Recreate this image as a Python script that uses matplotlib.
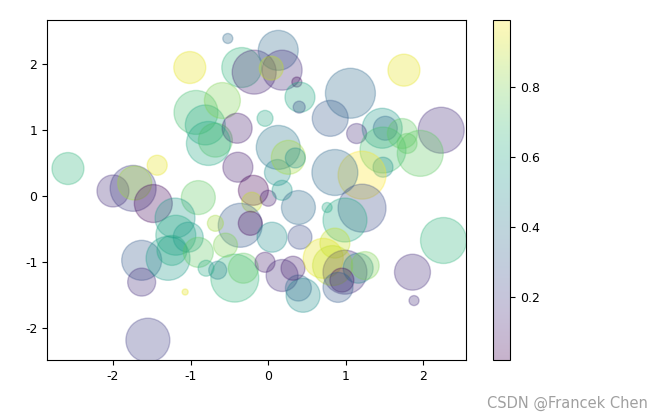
import numpy as np
import matplotlib.pyplot as plt

plt.rcParams['axes.unicode_minus'] = False

# bubble centres, sizes (pt^2) and colour values
x = [-0.52, -1.01, -0.34, -0.18, 0.13, 0.18, 0.04, 0.37, 0.41, 0.40,
     1.75, 1.06, 0.80, 1.47, 1.51, 2.23, 1.14, -2.58, -1.43, -2.00,
     -1.74, -1.72, -1.48, -0.90, -1.20, -1.19, -0.93, -0.81, -0.68, -0.59,
     -0.40, -0.77, -0.39, -0.19, -0.21, 0.00, 0.12, 0.13, 0.26, -0.36,
     -0.23, 0.18, 0.39, 0.41, 0.05, -0.68, -1.03, 1.96, 1.48, 1.48,
     1.21, 0.86, 1.21, 0.99, 0.76, 2.26, 0.86, 1.73, 1.79, -1.63,
     -1.63, -1.29, -1.07, -1.55, -1.24, -0.43, -0.65, -0.32, 0.18, 0.45,
     0.39, 0.32, 0.71, 0.99, 0.83, 1.16, 1.25, 0.95, 0.90, 1.86,
     1.88, -0.90, -0.55, -0.80, -0.04, -0.04, 0.35]
y = [2.39, 1.95, 1.95, 1.88, 2.21, 1.91, 1.94, 1.73, 1.50, 1.35,
     1.91, 1.56, 1.18, 1.03, 1.03, 1.00, 0.95, 0.42, 0.47, 0.08,
     0.12, 0.20, -0.11, -0.02, -0.33, -0.59, 1.27, 1.08, 0.85, 1.45,
     1.03, 0.80, 0.44, 0.09, -0.09, -0.03, 0.36, 0.74, 0.59, -0.44,
     -0.41, 0.09, -0.17, -0.62, -0.62, -0.41, -0.62, 0.65, 0.70, 0.44,
     0.32, 0.36, -0.18, -0.36, -0.17, -0.67, -0.71, 0.95, 0.80, -0.97,
     -1.30, -0.94, -1.45, -2.18, -0.82, -1.24, -1.12, -1.09, -1.20, -1.50,
     -1.39, -1.09, -0.94, -1.15, -1.05, -1.09, -1.05, -1.27, -1.38, -1.15,
     -1.58, -0.85, -0.74, -1.09, -1.00, 1.18, 0.58]
sizes = [52, 530, 828, 1002, 828, 828, 298, 52, 466, 75,
         530, 1294, 670, 828, 298, 1095, 207, 530, 207, 530,
         1095, 598, 747, 598, 828, 828, 1002, 828, 598, 670,
         466, 1002, 466, 466, 207, 132, 350, 1002, 598, 1002,
         298, 207, 598, 298, 466, 132, 466, 1095, 1095, 207,
         1192, 1095, 1192, 1002, 52, 1095, 466, 466, 207, 828,
         406, 1002, 19, 1002, 466, 1192, 168, 466, 530, 598,
         350, 298, 828, 1002, 828, 466, 406, 298, 466, 670,
         52, 466, 298, 132, 207, 132, 207]
colors = [0.35, 0.95, 0.65, 0.12, 0.35, 0.15, 0.90, 0.05, 0.60, 0.25,
          0.95, 0.35, 0.30, 0.55, 0.35, 0.15, 0.15, 0.65, 0.95, 0.15,
          0.20, 0.85, 0.05, 0.75, 0.55, 0.60, 0.70, 0.60, 0.75, 0.80,
          0.10, 0.60, 0.10, 0.02, 0.90, 0.10, 0.50, 0.40, 0.85, 0.30,
          0.05, 0.55, 0.35, 0.25, 0.50, 0.85, 0.55, 0.75, 0.70, 0.50,
          0.99, 0.35, 0.25, 0.60, 0.60, 0.65, 0.90, 0.75, 0.75, 0.30,
          0.15, 0.55, 0.95, 0.20, 0.60, 0.65, 0.45, 0.75, 0.15, 0.50,
          0.35, 0.10, 0.95, 0.15, 0.90, 0.45, 0.80, 0.05, 0.30, 0.15,
          0.15, 0.75, 0.80, 0.60, 0.10, 0.60, 0.50]

fig = plt.figure(figsize=(6.63, 4.19), dpi=100)
ax = fig.add_axes([0.0709, 0.1408, 0.632, 0.8115])
cax = fig.add_axes([0.7436, 0.1408, 0.0256, 0.8115])

sc = ax.scatter(x, y, c=colors, s=sizes, alpha=0.3, cmap='viridis')
ax.set_xlim(-2.85, 2.55)
ax.set_ylim(-2.48, 2.67)
ax.set_xticks([-2, -1, 0, 1, 2])
ax.set_yticks([-2, -1, 0, 1, 2])
ax.tick_params(labelsize=9)

cb = fig.colorbar(sc, cax=cax)
cb.set_ticks([0.2, 0.4, 0.6, 0.8])
cb.ax.tick_params(labelsize=9)

fig.text(0.977, 0.037, 'CSDN @Francek Chen', ha='right', va='center',
         fontsize=10.5, color='#a0a0a0')

plt.savefig('out.png')
